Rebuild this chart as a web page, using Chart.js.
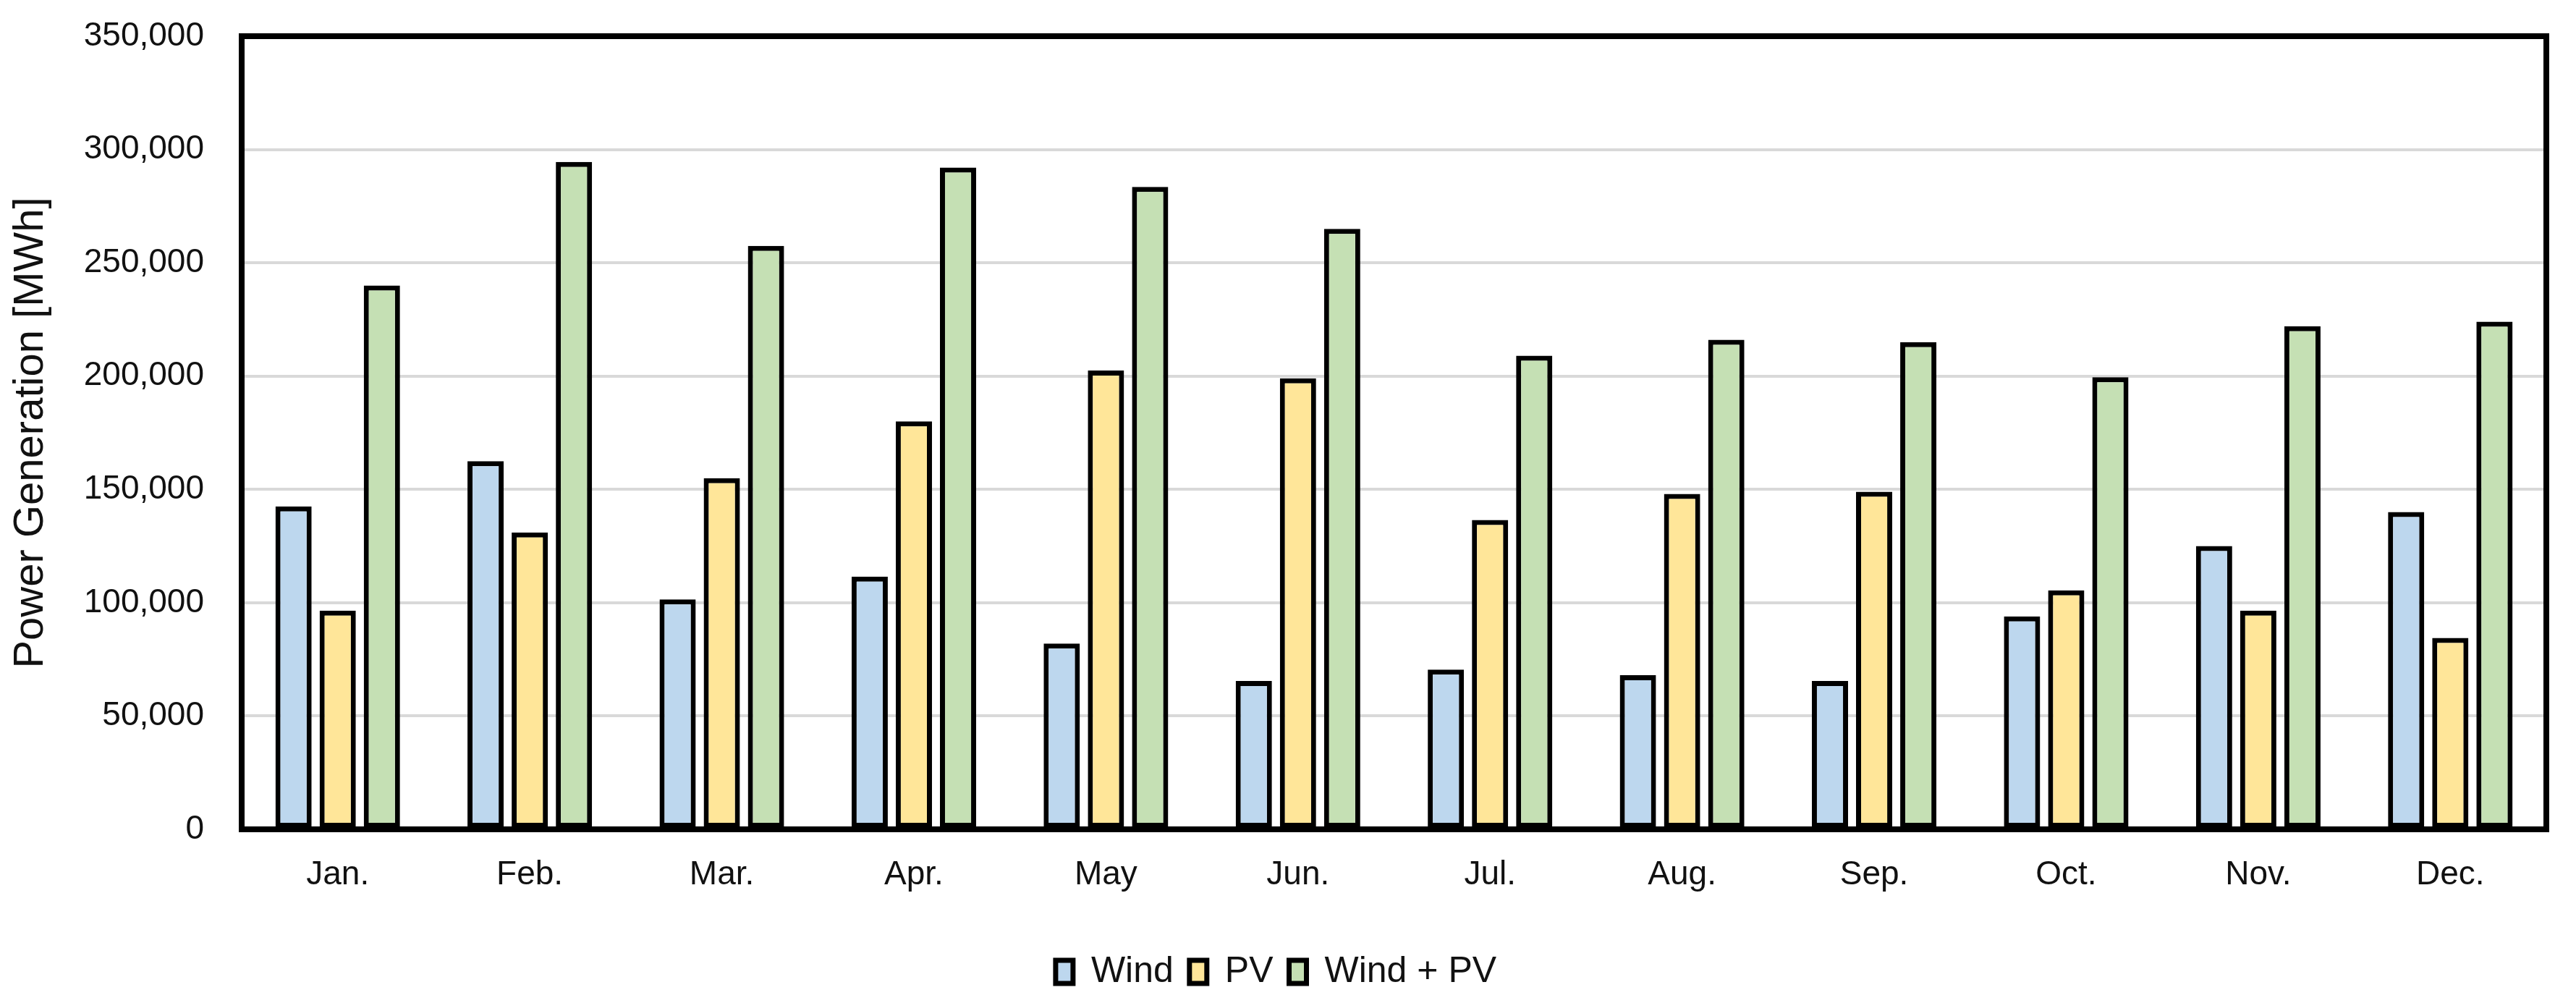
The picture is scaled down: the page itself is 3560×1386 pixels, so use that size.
<!DOCTYPE html>
<html>
<head>
<meta charset="utf-8">
<script src="https://cdn.jsdelivr.net/npm/chart.js@4.4.1/dist/chart.umd.min.js"></script>
<style>
  html, body { margin: 0; padding: 0; background: #fff; }
  #wrap { width: 3560px; height: 1386px; position: relative; }
</style>
</head>
<body>
<div id="wrap"><canvas id="myChart"></canvas></div>
<script>
const months = ["Jan.", "Feb.", "Mar.", "Apr.", "May", "Jun.", "Jul.", "Aug.", "Sep.", "Oct.", "Nov.", "Dec."];
const wind = [142500, 162500, 101500, 111500, 82000, 65500, 70500, 68000, 65500, 94000, 125000, 140000];
const pv = [96500, 131000, 155000, 180000, 202500, 199000, 136500, 148000, 149000, 105500, 96500, 84500];
const windPv = [240000, 294500, 257500, 292000, 283500, 265000, 209000, 216000, 215000, 199500, 222000, 224000];
const yTicks = [0, 50000, 100000, 150000, 200000, 250000, 300000, 350000];

const FONT = "'Liberation Sans', Arial, sans-serif";
const NARROW = "'Liberation Sans Narrow', 'Arial Narrow', 'Liberation Sans', sans-serif";

// black frame round the plot area, like the Excel chart
const plotFrame = {
  id: 'plotFrame',
  afterDatasetsDraw(chart) {
    const { ctx, chartArea: a } = chart;
    ctx.save();
    ctx.strokeStyle = '#000';
    ctx.lineWidth = 8;
    ctx.strokeRect(a.left, a.top, a.right - a.left, a.bottom - a.top);
    ctx.restore();
  }
};

const makeSet = (label, values, color) => ({
  label: label,
  data: values,
  backgroundColor: color,
  borderColor: '#000',
  borderWidth: 7,
  borderSkipped: false,
  categoryPercentage: 0.69,
  barPercentage: 0.82,
});

const data = {
  labels: months,
  datasets: [
    makeSet('Wind', wind, '#BDD7EE'),
    makeSet('PV', pv, '#FFE699'),
    makeSet('Wind + PV', windPv, '#C5E0B4'),
  ],
};

const options = {
  responsive: true,
  maintainAspectRatio: false,
  devicePixelRatio: 1,
  animation: false,
  layout: { padding: { left: 8, right: 41, top: 50, bottom: 8 } },
  scales: {
    x: {
      grid: { display: false, drawTicks: false },
      border: { display: false },
      ticks: { color: '#111', font: { family: FONT, size: 46 }, padding: 36 },
      afterFit: (scale) => { scale.height = 150; },
    },
    y: {
      min: 0,
      max: 350000,
      afterBuildTicks: (scale) => { scale.ticks = yTicks.map(v => ({ value: v })); },
      grid: { color: '#d9d9d9', lineWidth: 4, drawTicks: false },
      border: { display: false },
      ticks: {
        color: '#111',
        font: { family: NARROW, size: 46 },
        padding: 52,
        callback: (value) => value.toLocaleString('en-US'),
      },
      title: {
        display: true,
        text: 'Power Generation [MWh]',
        color: '#111',
        font: { family: FONT, size: 58 },
        padding: { top: 0, bottom: 0 },
      },
      afterFit: (scale) => {
        scale.width = 326;
        // tick padding would otherwise push the plot top down
        scale.paddingTop = 0;
        scale.paddingBottom = 0;
      },
    },
  },
  plugins: {
    legend: {
      position: 'bottom',
      labels: {
        color: '#111',
        font: { family: FONT, size: 50 },
        boxWidth: 24,
        boxHeight: 32,
        padding: 22,
      },
    },
    tooltip: { enabled: false },
  },
};

const ctx = document.getElementById('myChart').getContext('2d');
const myChart = new Chart(ctx, {
  type: 'bar',
  data: data,
  options: options,
  plugins: [plotFrame],
});
</script>
</body>
</html>
